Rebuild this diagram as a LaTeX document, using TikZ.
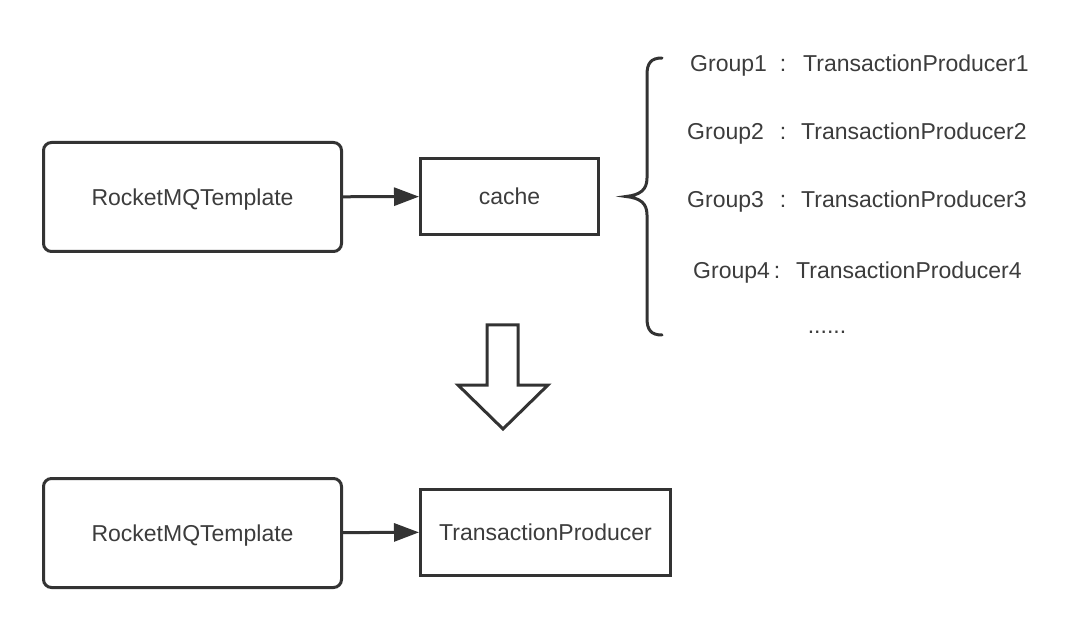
\documentclass[tikz,border=0pt]{standalone}
\usepackage{fontspec}
\setmainfont{Liberation Sans}
\usepackage{tikz}
\definecolor{liniengrau}{RGB}{51, 51, 51}
\definecolor{textgrau}{RGB}{60, 60, 60}
\usetikzlibrary{arrows.meta}

\begin{document}
\begin{tikzpicture}[x=1pt, y=-1pt,
			>={Triangle[length=25pt, width=18pt]},   %Voreinstellung fuer Pfeilspitzen
			rundbox/.style={draw=liniengrau, line width=3pt, rounded corners=8pt, minimum width=298pt, minimum height=109pt},
			eckbox/.style={draw=liniengrau, line width=3pt, minimum width=#1, minimum height=76pt},
			pfeil/.style={->, draw=liniengrau, line width=3pt},
			every node/.style={text height=19pt, text depth=2pt, inner sep=0pt},
			font=\fontsize{23}{27}\selectfont, text=textgrau]
			%Rahmen festlegen
			\useasboundingbox (0,0) rectangle (1080,631);
			% obere Zeile
			\node[rundbox] (vorlageA) at (192.5,197) {RocketMQTemplate};
			\node[eckbox=178pt] (cache) at (509.5,196.5) {cache};
			\draw[pfeil] (vorlageA) -- (cache);
			% Klammer zeichnen
			\draw[liniengrau, line width=3pt, line cap=round]
				(662,58) .. controls (651,58) and (647,63) .. (647,75) -- (647,178)
				.. controls (647,190) and (640,195) .. (626,196.5)
				.. controls (640,198) and (647,203) .. (647,215) -- (647,318)
				.. controls (647,330) and (651,335) .. (662,335);
			% Gruppen beschriften
			\node[anchor=west] (gruppe1) at (690,63) {Group1};
			\node (dp1) at (783,63) {:};
			\node[anchor=west] (prod1) at (803,63) {TransactionProducer1};
			\node[anchor=west] (gruppe2) at (687,131) {Group2};
			\node (dp2) at (783,131) {:};
			\node[anchor=west] (prod2) at (801,131) {TransactionProducer2};
			\node[anchor=west] (gruppe3) at (687,199) {Group3};
			\node (dp3) at (783,199) {:};
			\node[anchor=west] (prod3) at (801,199) {TransactionProducer3};
			\node[anchor=west] (gruppe4) at (693,270) {Group4};
			\node (dp4) at (777,270) {:};
			\node[anchor=west] (prod4) at (796,270) {TransactionProducer4};
			\node (punkte) at (827,325) {......};
			% Blockpfeil nach unten
			\draw[liniengrau, line width=3pt, line join=miter, fill=white]
				(487,325) -- (518,325) -- (518,385) -- (548,385) -- (503,429)
				-- (458,385) -- (487,385) -- cycle;
			% untere Zeile
			\node[rundbox] (vorlageB) at (192.5,533) {RocketMQTemplate};
			\node[eckbox=250pt, minimum height=86pt] (producer) at (545.5,532) {TransactionProducer};
			\draw[pfeil] (vorlageB) -- (producer);
		\end{tikzpicture}
\end{document}
